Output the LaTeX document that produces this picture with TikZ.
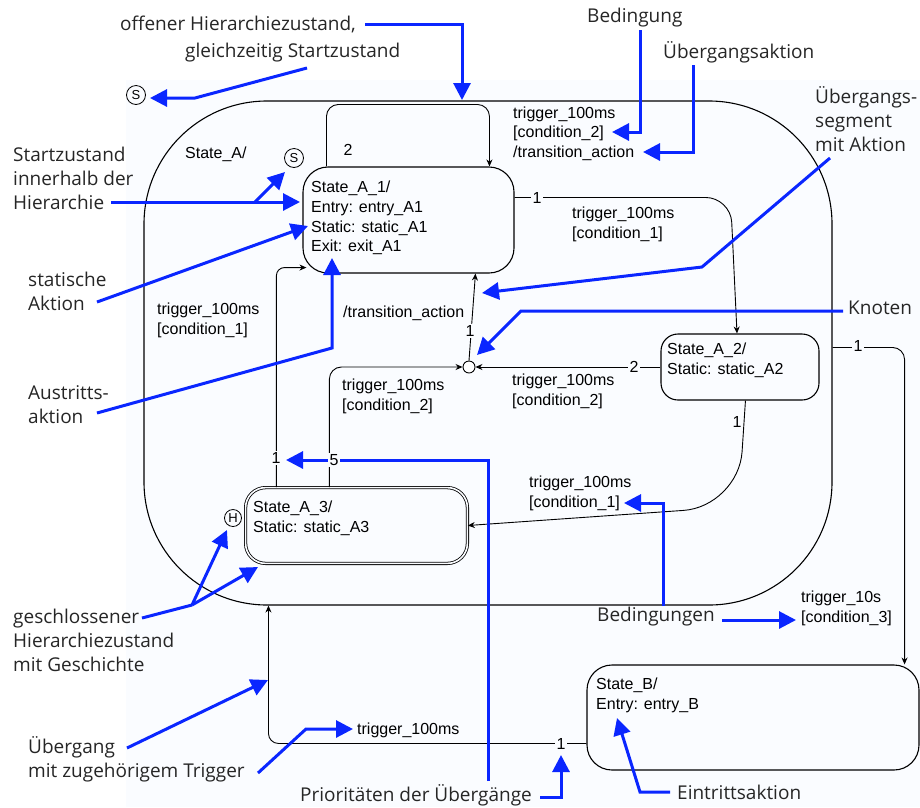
\documentclass[tikz,border=0pt]{standalone}
\usepackage{fontspec}
\usetikzlibrary{arrows.meta,calc}
\newfontfamily\diafont{Liberation Sans}
\newfontfamily\notefont{Open Sans}
\definecolor{notecol}{RGB}{10,38,255}
\definecolor{inkgray}{RGB}{38,38,38}
\definecolor{paper}{RGB}{250,252,255}
\begin{document}
\begin{tikzpicture}[x=1pt,y=-1pt,
  dia/.style={font=\diafont\fontsize{16}{19.7}\selectfont, inner sep=0pt, align=left, anchor=west},
  statebox/.style={draw, line width=1.1pt, inner sep=0pt},
  trans/.style={draw, line width=0.9pt, -{Stealth[length=7pt,width=6pt]}},
  prio/.style={font=\diafont\fontsize{16}{19}\selectfont, fill=paper, inner sep=1.2pt},
  pseudo/.style={circle, draw, line width=0.8pt, inner sep=0pt, font=\diafont\fontsize{13}{13}\selectfont},
  note/.style={font=\notefont\fontsize{19}{24}\selectfont, text=inkgray, inner sep=0pt, align=left, anchor=west},
  pointer/.style={draw=notecol, line width=3pt, -{Triangle[length=17pt,width=17pt]}},
  pointerline/.style={draw=notecol, line width=3pt},
]
\useasboundingbox (0,0) rectangle (920,807);
\fill[white] (0,0) rectangle (920,807);
\fill[paper] (126,80) rectangle (920,807);

% ---------- states ----------
\node[statebox, rounded corners=123, minimum width=688, minimum height=504] (A) at (488,353) {};
\node[statebox, rounded corners=25, minimum width=211, minimum height=106] (A1) at (408.5,220) {};
\node[statebox, rounded corners=17, minimum width=158, minimum height=66] (A2) at (740,367) {};
\node[statebox, line width=0.8pt, double=paper, double distance=1.6pt, rounded corners=20,
      minimum width=221.8, minimum height=75.8] (A3) at (356.5,525.5) {};
\node[statebox, rounded corners=25, minimum width=332, minimum height=105] (B) at (753,717.5) {};

% pseudo states
\node[pseudo, minimum size=19] (S0) at (136,95) {S};
\node[pseudo, minimum size=19] (S1) at (294,158) {S};
\node[pseudo, minimum size=17] (H) at (233,518) {H};
\node[circle, draw, line width=0.9pt, fill=white, minimum size=12, inner sep=0pt] (K) at (469,367) {};

% state texts
\node[dia] (Atxt) at (185,154.5) {State\_A/};
\node[dia] (A1txt) at (311,218) {State\_A\_1/\\Entry: entry\_A1\\Static: static\_A1\\Exit: exit\_A1};
\node[dia] (A2txt) at (667,360.5) {State\_A\_2/\\Static: static\_A2};
\node[dia] (A3txt) at (253,518.5) {State\_A\_3/\\Static: static\_A3};
\node[dia] (Btxt) at (596,695) {State\_B/\\Entry: entry\_B};

% ---------- transitions ----------
\draw[trans, rounded corners=12] ($(A1.north west)+(24,0)$) -- ($(A1.north west)+(24,-62)$)
      -- ($(A1.north west)+(187,-62)$) -- ($(A1.north west)+(187,0)$);
\draw[trans, rounded corners=25] ($(A1.north east)+(0,31)$) -- ($(A1.north east)+(216,31)$)
      -- ($(A2.north)+(-3,0)$);
\draw[trans] (A2.west) -- (K.east);
\draw[trans] (K.north) -- ($(A1.south west)+(173,0)$);
\draw[trans, rounded corners=12] ($(A3.north west)+(84.2,0)$) |- (K.west);
\draw[trans, rounded corners=8] ($(A3.north west)+(31.2,0)$) |- ($(A1.south west)+(4,-6)$);
\draw[trans, rounded corners=55] ($(A2.south west)+(85,0)$) -- ($(A2.south west)+(78,106)$) -- (A3.east);
\draw[trans, rounded corners=12] ($(A.north east)+(0,247)$) -| ($(B.north east)+(-15,0)$);
\draw[trans, rounded corners=10] ($(B.north west)+(0,79)$) -| ($(A.south west)+(125,0)$);

% transition labels
\node[dia] (L1) at (513,133.5) {trigger\_100ms\\{[}condition\_2{]}\\/transition\_action};
\node[dia] (L2) at (572,224.5) {trigger\_100ms\\{[}condition\_1{]}};
\node[dia] (L3) at (342,396.5) {trigger\_100ms\\{[}condition\_2{]}};
\node[dia] (L4) at (512,391.5) {trigger\_100ms\\{[}condition\_2{]}};
\node[dia] (L5) at (157,320.5) {trigger\_100ms\\{[}condition\_1{]}};
\node[dia] (L6) at (529,493.5) {trigger\_100ms\\{[}condition\_1{]}};
\node[dia] (L7) at (801,608.5) {trigger\_10s\\{[}condition\_3{]}};
\node[dia] (L8) at (357,730.5) {trigger\_100ms};
\node[dia] (L9) at (343,313.5) {/transition\_action};

% ---------- explanatory notes ----------
\node[note] (n1) at (120,24) {offener Hierarchiezustand,};
\node[note] (n2) at (185,53) {gleichzeitig Startzustand};
\node[note] (n3) at (587,18) {Bedingung};
\node[note] (n4) at (663,52) {Übergangsaktion};
\node[note] (n5) at (815,119) {Übergangs-\\segment\\mit Aktion};
\node[note] (n6) at (848,308) {Knoten};
\node[note] (n7) at (13,178) {Startzustand\\innerhalb der\\Hierarchie};
\node[note] (n8) at (28,291.5) {statische\\Aktion};
\node[note] (n9) at (28,405) {Austritts-\\aktion};
\node[note] (n10) at (13,640) {geschlossener\\Hierarchiezustand\\mit Geschichte};
\node[note] (n11) at (28,759) {Übergang\\mit zugehörigem Trigger};
\node[note] (n12) at (300,795) {Prioritäten der Übergänge};
\node[note] (n13) at (597,617) {Bedingungen};
\node[note] (n14) at (677,792) {Eintrittsaktion};

% pointer ends
\coordinate (t1) at (462,100);
\coordinate (s2) at (307,68);   \coordinate (t2) at (150,98);
\coordinate (s3) at (640,30);   \coordinate (t3) at (612,132);
\coordinate (s4) at (693,65);   \coordinate (t4) at (643,152);
\coordinate (s5) at (830,158);  \coordinate (t5) at (482,293);
\coordinate (t6) at (477,355);
\coordinate (s7) at (111,202);  \coordinate (t7a) at (300,202); \coordinate (j7) at (255,202); \coordinate (t7b) at (285,172);
\coordinate (s8) at (97,302);   \coordinate (t8) at (308,226);
\coordinate (s9) at (97,413);   \coordinate (t9) at (332,258);
\coordinate (s10) at (142,618); \coordinate (j10) at (192,605); \coordinate (t10a) at (227,530); \coordinate (t10b) at (258,567);
\coordinate (s11a) at (127,748); \coordinate (t11a) at (268,680);
\coordinate (s11b) at (258,773); \coordinate (t11b) at (353,729);
\coordinate (s12a) at (488,781); \coordinate (t12a) at (286,460);
\coordinate (t12b) at (561,755);
\coordinate (s13a) at (663,606); \coordinate (t13a) at (624,503);
\coordinate (s13b) at (722,620); \coordinate (t13b) at (796,620);
\coordinate (s14) at (670,792); \coordinate (t14) at (617,718);

\draw[pointer] ($(n1.east)+(9,0)$) -| (t1);
\draw[pointer] (s2) -- (195,98) -- (t2);
\draw[pointer] (s3) |- (t3);
\draw[pointer] (s4) |- (t4);
\draw[pointer] (s5) -- (702,267) -- (t5);
\draw[pointer] ($(n6.west)+(-5,3)$) -- (521,311) -- (t6);
\draw[pointer] (s7) -- (t7a);
\draw[pointer] (j7) -- (t7b);
\draw[pointer] (s8) -- (t8);
\draw[pointer] (s9) -- (332,348) -- (t9);
\draw[pointerline] (s10) -- (j10);
\draw[pointer] (j10) -- (t10a);
\draw[pointer] (j10) -- (t10b);
\draw[pointer] (s11a) -- (t11a);
\draw[pointer] (s11b) -- (306,729) -- (t11b);
\draw[pointer] (s12a) |- (t12a);
\draw[pointer] ($(n12.east)+(8,2)$) -| (t12b);
\draw[pointer] (s13a) |- (t13a);
\draw[pointer] (s13b) -- (t13b);
\draw[pointer] (s14) -- (640,792) -- (t14);

% ---------- priorities ----------
\node[prio] (p1) at (348,150) {2};
\node[prio] (p2) at (537,198) {1};
\node[prio] (p3) at (634,367) {2};
\node[prio] (p4) at (470,331) {1};
\node[prio] (p5) at (334,460) {5};
\node[prio] (p6) at (276,458) {1};
\node[prio] (p7) at (737,422) {1};
\node[prio] (p8) at (858,346) {1};
\node[prio] (p9) at (561,744) {1};
\end{tikzpicture}
\end{document}
